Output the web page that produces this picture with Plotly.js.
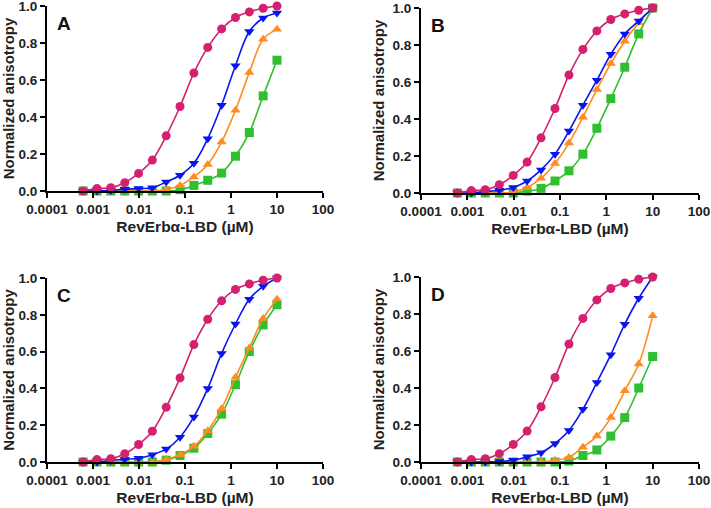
<!DOCTYPE html>
<html>
<head>
<meta charset="utf-8">
<script src="https://cdn.plot.ly/plotly-3.0.1.min.js"></script>
<style>html,body{margin:0;padding:0;background:#fff;}#chart{width:711px;height:508px;}</style>
</head>
<body>
<div id="chart"></div>
<script>
// 2-fold dilution series of RevErbα-LBD (µM)
const conc = [0.00061, 0.00122, 0.00244, 0.0049, 0.0098, 0.0195, 0.039, 0.078, 0.156, 0.3125, 0.625, 1.25, 2.5, 5, 10];

const panelLabels = ["A", "B", "C", "D"];
const xTickVals = [0.0001, 0.001, 0.01, 0.1, 1, 10, 100];
const xTickText = ["0.0001", "0.001", "0.01", "0.1", "1", "10", "100"];
const yTickVals = [0, 0.2, 0.4, 0.6, 0.8, 1.0];
const yTickText = ["0.0", "0.2", "0.4", "0.6", "0.8", "1.0"];

// magenta circles (same in all panels)
const circA = [0.0, 0.013, 0.018, 0.045, 0.095, 0.167, 0.298, 0.457, 0.638, 0.776, 0.876, 0.938, 0.968, 0.988, 1.0];
const circB = circA, circC = circA, circD = circA;

// blue down-triangles
const downA = [0.0, 0.0, 0.003, 0.01, 0.013, 0.018, 0.049, 0.085, 0.150, 0.283, 0.464, 0.677, 0.862, 0.935, 0.962];
const downB = [0.0, 0.0, 0.008, 0.015, 0.03, 0.065, 0.125, 0.21, 0.335, 0.475, 0.61, 0.75, 0.86, 0.93, 1.0];
const downC = [0.0, 0.0, 0.008, 0.015, 0.02, 0.04, 0.07, 0.135, 0.245, 0.40, 0.59, 0.75, 0.885, 0.955, 1.0];
const downD = [0.0, 0.0, 0.0, 0.003, 0.01, 0.028, 0.05, 0.10, 0.17, 0.285, 0.43, 0.58, 0.745, 0.885, 1.0];

// orange up-triangles
const upA = [0.0, 0.0, 0.0, 0.0, 0.0, 0.0, 0.008, 0.03, 0.076, 0.143, 0.265, 0.437, 0.64, 0.82, 0.875];
const upB = [0.0, 0.0, 0.0, 0.0, 0.005, 0.03, 0.08, 0.16, 0.27, 0.41, 0.56, 0.70, 0.82, 0.92, 1.0];
const upC = [0.0, 0.0, 0.0, 0.0, 0.0, 0.0, 0.015, 0.04, 0.085, 0.17, 0.29, 0.46, 0.62, 0.78, 0.885];
const upD = [0.0, 0.0, 0.0, 0.0, 0.0, 0.0, 0.0, 0.01, 0.025, 0.08, 0.14, 0.24, 0.385, 0.53, 0.79];

// green squares
const sqA = [0.0, 0.0, 0.0, 0.0, 0.0, 0.0, 0.0, 0.007, 0.03, 0.058, 0.097, 0.188, 0.316, 0.514, 0.707];
const sqB = [0.0, 0.0, 0.0, 0.0, 0.0, 0.01, 0.025, 0.065, 0.12, 0.21, 0.35, 0.51, 0.68, 0.86, 1.0];
const sqC = [0.0, 0.0, 0.0, 0.0, 0.0, 0.0, 0.01, 0.035, 0.075, 0.155, 0.26, 0.42, 0.60, 0.745, 0.855];
const sqD = [0.0, 0.0, 0.0, 0.0, 0.0, 0.0, 0.0, 0.0, 0.005, 0.035, 0.065, 0.14, 0.24, 0.40, 0.57];

const panels = [
  [circA, downA, upA, sqA],
  [circB, downB, upB, sqB],
  [circC, downC, upC, sqC],
  [circD, downD, upD, sqD]
];

const seriesStyle = [
  {color: "#d4206f", symbol: "circle"},
  {color: "#0a14f0", symbol: "triangle-down"},
  {color: "#ff8c1e", symbol: "triangle-up"},
  {color: "#2fbf2f", symbol: "square"}
];
// draw order: green first, then orange, blue, magenta on top
const drawOrder = [3, 2, 1, 0];

const W = 711, H = 508;
const xDomains = [[47, 323], [421, 699], [47, 323], [421, 699]];
const yDomains = [[6, 191], [8, 193], [278, 462], [277, 462]];

const traces = [];
const layout = {
  width: W, height: H,
  margin: {l: 0, r: 0, t: 0, b: 0},
  paper_bgcolor: "#fff", plot_bgcolor: "#fff",
  showlegend: false,
  font: {family: "Liberation Sans, Arial, sans-serif", color: "#111"},
  annotations: []
};

panels.forEach((p, i) => {
  const xa = i === 0 ? "x" : "x" + (i + 1);
  const ya = i === 0 ? "y" : "y" + (i + 1);
  drawOrder.forEach(s => {
    traces.push({
      type: "scatter", mode: "lines+markers",
      x: conc, y: p[s],
      xaxis: xa, yaxis: ya,
      cliponaxis: false,
      line: {color: seriesStyle[s].color, width: 1.6, shape: "spline", smoothing: 1},
      marker: {color: seriesStyle[s].color, symbol: seriesStyle[s].symbol, size: 9}
    });
  });
  const xk = i === 0 ? "xaxis" : "xaxis" + (i + 1);
  const yk = i === 0 ? "yaxis" : "yaxis" + (i + 1);
  layout[xk] = {
    type: "log", range: [-4, 2],
    domain: [xDomains[i][0] / W, xDomains[i][1] / W],
    anchor: ya,
    showgrid: false, zeroline: false,
    showline: true, linecolor: "#000", linewidth: 2,
    ticks: "outside", ticklen: 5, tickwidth: 2, tickcolor: "#000",
    tickvals: xTickVals, ticktext: xTickText,
    ticklabeloverflow: "allow",
    tickfont: {size: 13.5, weight: "bold", color: "#222"},
    title: {text: "RevErbα-LBD (µM)", font: {size: 15.5, weight: "bold", color: "#222"}, standoff: 5}
  };
  layout[yk] = {
    range: [0, 1],
    domain: [1 - yDomains[i][1] / H, 1 - yDomains[i][0] / H],
    anchor: xa,
    showgrid: false, zeroline: false,
    showline: true, linecolor: "#000", linewidth: 2,
    ticks: "outside", ticklen: 5, tickwidth: 2, tickcolor: "#000",
    tickvals: yTickVals, ticktext: yTickText,
    ticklabeloverflow: "allow",
    tickfont: {size: 13.5, weight: "bold", color: "#222"},
    title: {text: "Normalized anisotropy", font: {size: 15, weight: "bold", color: "#222"}, standoff: 4}
  };
  layout.annotations.push({
    text: panelLabels[i], showarrow: false,
    xref: xa + " domain", yref: ya + " domain",
    x: 0.06, y: 0.905, xanchor: "center", yanchor: "middle",
    font: {size: 19, weight: "bold", color: "#111"}
  });
});

Plotly.newPlot("chart", traces, layout, {staticPlot: true});
</script>
</body>
</html>
